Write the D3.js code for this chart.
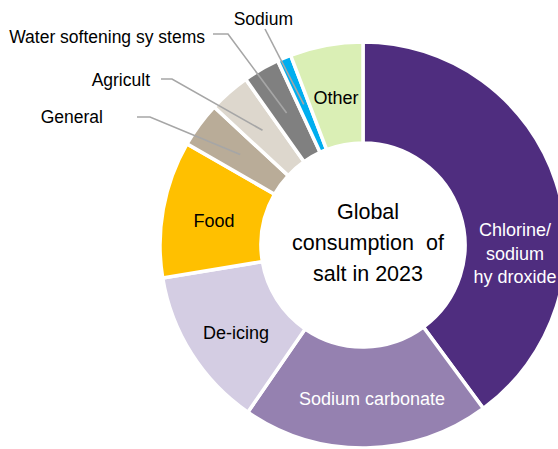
<!DOCTYPE html>
<html>
<head>
<meta charset="utf-8">
<script src="https://cdnjs.cloudflare.com/ajax/libs/d3/7.8.5/d3.min.js"></script>
<style>
html,body{margin:0;padding:0;background:#fff;}
svg{display:block;font-family:"Liberation Sans",Arial,sans-serif;}
</style>
</head>
<body>
<svg id="chart" width="558" height="449"></svg>
<script>
// Data (share of global salt consumption, %)
const categories = ["Chlorine/ sodium hy droxide","Sodium carbonate","De-icing","Food","General","Agricult","Water softening sy stems","Sodium","Other"];
const values = [39.9, 19.7, 12.8, 10.9, 3.6, 3.3, 2.9, 1.1, 5.8];
const colors = ["#4F2D7F","#9581B0","#D4CDE3","#FFC000","#B9AC98","#DDD7CD","#808080","#00AEEF","#DAEFB5"];
const centerTitle = ["Global","consumption  of","salt in 2023"];

// Layout
const cx = 363, cy = 245, outerR = 203, innerR = 102;
// inside labels: lines, position, color
const insideLabels = {
  0: {lines:["Chlorine/","sodium","hy droxide"], x:515, y:236, dy:23.5, fill:"#fff"},
  1: {lines:["Sodium carbonate"], x:372, y:405, dy:0, fill:"#fff"},
  2: {lines:["De-icing"], x:236, y:339, dy:0, fill:"#000"},
  3: {lines:["Food"], x:214, y:227, dy:0, fill:"#000"},
  8: {lines:["Other"], x:336, y:104, dy:0, fill:"#000"}
};
// outside labels: text right end, baseline, leader start & elbow
const outsideLabels = {
  4: {x:103, y:123, lx:137, ly:117, ex:150},
  5: {x:150, y:86, lx:161, ly:79, ex:172},
  6: {x:205, y:43, lx:213, ly:34, ex:228},
  7: {x:293, y:25, lx:265, ly:29, ex:null, anchor:"end"}
};

const svg = d3.select("#chart");
const g = svg.append("g").attr("transform", `translate(${cx},${cy})`);

const pie = d3.pie().sort(null).value(d => d.v).startAngle(0).endAngle(2*Math.PI);
const data = pie(categories.map((c,i)=>({name:c, v:values[i], i})));
const arc = d3.arc().innerRadius(innerR).outerRadius(outerR);
const midArc = d3.arc().innerRadius((innerR+outerR)/2).outerRadius((innerR+outerR)/2);

g.selectAll("path.slice").data(data).enter().append("path")
  .attr("class","slice")
  .attr("d", arc)
  .attr("fill", d => colors[d.data.i])
  .attr("stroke","#fff")
  .attr("stroke-width",3.5)
  .attr("stroke-linejoin","miter");

// leader lines (drawn over slices)
data.forEach(d => {
  const o = outsideLabels[d.data.i];
  if (!o) return;
  const c = midArc.centroid(d);
  const px = c[0]+cx, py = c[1]+cy;
  const pts = [[o.lx,o.ly]];
  if (o.ex !== null) pts.push([o.ex,o.ly]);
  pts.push([px,py]);
  svg.append("path")
    .attr("d", d3.line()(pts))
    .attr("fill","none")
    .attr("stroke","#A6A6A6")
    .attr("stroke-width",1.6);
  svg.append("text")
    .attr("x", o.x).attr("y", o.y)
    .attr("text-anchor","end")
    .attr("font-size",17.5)
    .attr("fill","#000")
    .text(d.data.name);
});

// inside labels
Object.keys(insideLabels).forEach(k => {
  const L = insideLabels[k];
  const t = svg.append("text")
    .attr("text-anchor","middle")
    .attr("font-size",18)
    .attr("fill",L.fill);
  L.lines.forEach((ln,j) => {
    t.append("tspan").attr("x",L.x).attr("y",L.y + j*L.dy).text(ln);
  });
});

// center title
const ct = svg.append("text").attr("text-anchor","middle").attr("font-size",21.5).attr("fill","#000");
centerTitle.forEach((ln,j)=>{
  ct.append("tspan").attr("x",368).attr("y",219 + j*31).attr("xml:space","preserve").style("white-space","pre").text(ln);
});
</script>
</body>
</html>
